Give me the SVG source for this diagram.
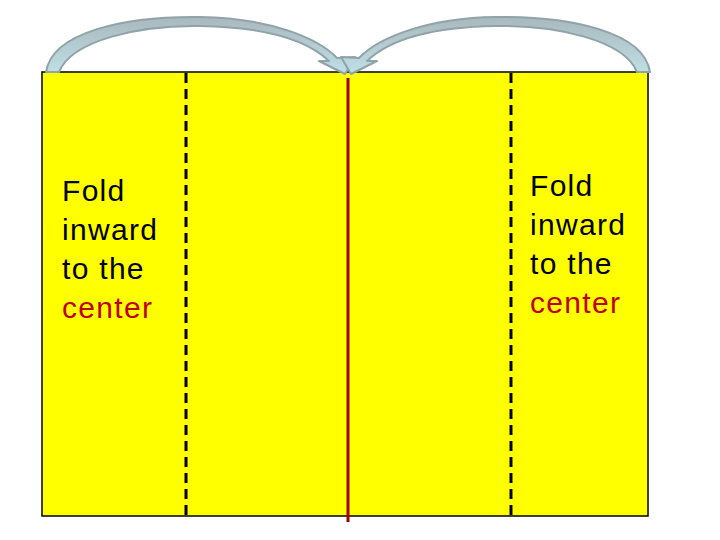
<svg xmlns="http://www.w3.org/2000/svg" width="720" height="540" viewBox="0 0 720 540">
<defs>
<linearGradient id="ag" x1="0" y1="0" x2="0" y2="1"><stop offset="0" stop-color="#a9b8bd"/><stop offset="1" stop-color="#bfe0e6"/></linearGradient>
<style>
.t{font-family:"Liberation Sans",Arial,sans-serif;font-size:30px;letter-spacing:1.3px;fill:#000}
.c{fill:#c00000}
.d{stroke:#000;stroke-width:3;stroke-dasharray:10,6}
.arr{fill:url(#ag);stroke:#8fa3a8;stroke-width:2;stroke-linejoin:round}
</style>
</defs>
<rect width="720" height="540" fill="#fff"/>
<g id="sheet"><rect x="42" y="72" width="606" height="444" fill="#ffff00" stroke="#000" stroke-width="1.5"/></g>
<g id="connectors">
<line class="d" x1="186" y1="73" x2="186" y2="516"/>
<line class="d" x1="511" y1="73" x2="511" y2="516"/>
<line x1="348" y1="78" x2="348" y2="522" stroke="#a00000" stroke-width="3"/>
<path id="leftArrow" class="arr" d="M46,72 C52,32 125,16 200,17 C270,18 318,38 337,58 L355,57 L345,74 L319,61 L329,61 C305,38 262,27 200,26 C140,25 72,40 59,72 Z"/>
<use href="#leftArrow" transform="translate(696,0) scale(-1,1)"/>
</g>
<g id="leftLabel"><text class="t" x="62" y="201">Fold</text><text class="t" x="62" y="240">inward</text><text class="t" x="62" y="279">to the</text><text class="t c" x="62" y="318">center</text></g>
<g id="rightLabel"><text class="t" x="530" y="196">Fold</text><text class="t" x="530" y="235">inward</text><text class="t" x="530" y="274">to the</text><text class="t c" x="530" y="313">center</text></g>
</svg>
